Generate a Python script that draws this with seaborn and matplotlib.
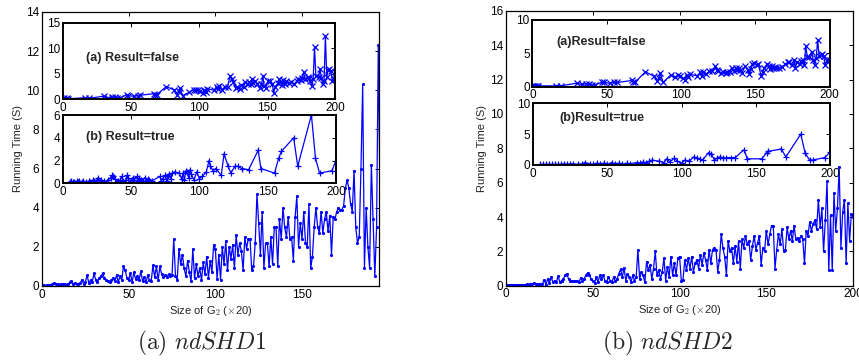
import numpy as np
import pandas as pd
import matplotlib
matplotlib.use("Agg")
import matplotlib.pyplot as plt
import seaborn as sns

# ---------------- data ----------------
# main curves: one value per size step (x = 0, 1, 2, ...)
shd1_main = [
    0.05, 0.05, 0.02, 0.03, 0.05, 0.04, 0.08, 0.15, 0.12, 0.08,
    0.05, 0.10, 0.08, 0.12, 0.05, 0.10, 0.18, 0.25, 0.10, 0.15,
    0.12, 0.10, 0.15, 0.30, 0.12, 0.20, 0.55, 0.15, 0.30, 0.20,
    0.65, 0.30, 0.20, 0.40, 0.50, 0.65, 0.40, 0.30, 0.25, 0.20,
    0.30, 0.40, 0.25, 0.55, 0.20, 0.50, 0.30, 1.00, 0.80, 0.40,
    0.30, 0.65, 0.20, 0.70, 0.35, 0.50, 0.30, 0.75, 0.25, 0.45,
    0.20, 0.55, 0.30, 0.25, 1.05, 0.45, 1.00, 0.30, 1.00, 0.60,
    0.45, 0.55, 0.45, 0.60, 0.50, 0.55, 2.40, 0.50, 0.30, 1.90,
    1.10, 1.60, 0.90, 0.50, 1.30, 0.70, 0.25, 1.90, 0.40, 1.10,
    0.50, 0.90, 0.30, 1.20, 0.60, 1.50, 0.40, 1.30, 0.70, 2.10,
    1.90, 0.35, 1.60, 0.30, 2.00, 1.10, 2.30, 0.80, 2.00, 1.40,
    2.10, 0.90, 2.60, 1.60, 2.20, 1.80, 0.80, 2.50, 1.90, 2.40,
    2.40, 0.80, 1.00, 2.20, 4.70, 3.20, 1.60, 3.80, 0.90, 2.20,
    2.20, 1.00, 2.50, 1.10, 3.00, 3.00, 1.00, 3.40, 2.40, 4.00,
    3.00, 2.50, 3.50, 2.40, 2.50, 1.30, 3.50, 4.60, 2.00, 3.20,
    2.40, 3.80, 2.20, 2.00, 4.20, 0.90, 1.50, 3.00, 4.00, 3.00,
    2.70, 3.80, 2.70, 3.40, 3.80, 2.80, 3.60, 1.60, 3.50, 3.40,
    3.80, 4.00, 3.90, 3.90, 4.10, 5.00, 5.40, 5.00, 4.20, 3.80,
    5.90, 3.00, 2.20, 2.50, 6.00, 10.30, 0.90, 4.00, 2.00, 0.90,
    6.20, 3.40, 0.50, 3.00, 12.30, 4.40, 3.50,
]
shd2_main = [
    0.05, 0.04, 0.03, 0.05, 0.04, 0.03, 0.06, 0.05, 0.04, 0.05,
    0.05, 0.06, 0.08, 0.06, 0.10, 0.12, 0.15, 0.10, 0.08, 0.12,
    0.08, 0.10, 0.35, 0.05, 0.40, 0.15, 0.50, 0.20, 0.30, 0.20,
    0.55, 0.20, 0.30, 0.40, 0.60, 0.70, 0.40, 0.30, 0.25, 0.30,
    0.25, 0.30, 0.20, 0.45, 0.30, 0.40, 0.60, 0.75, 0.60, 0.40,
    0.30, 0.15, 0.50, 0.20, 0.60, 0.40, 0.60, 0.30, 0.20, 0.50,
    0.30, 0.20, 0.50, 0.25, 0.40, 0.70, 0.95, 0.50, 1.05, 0.30,
    0.70, 0.50, 0.20, 0.60, 0.30, 0.50, 2.10, 0.40, 0.80, 0.60,
    0.20, 1.40, 0.90, 1.20, 0.40, 1.00, 2.00, 0.60, 0.90, 0.40,
    0.80, 1.60, 0.30, 1.10, 0.50, 1.70, 0.60, 1.30, 0.60, 1.60,
    1.70, 0.30, 0.35, 1.50, 0.90, 1.60, 1.00, 1.70, 0.80, 1.30,
    1.50, 1.00, 1.80, 1.20, 1.90, 1.50, 0.90, 2.10, 1.30, 2.10,
    2.20, 2.10, 0.80, 1.50, 3.00, 2.20, 1.70, 0.60, 2.60, 2.00,
    2.20, 1.30, 2.30, 1.40, 2.60, 1.00, 2.70, 2.20, 2.90, 2.40,
    2.60, 1.50, 2.30, 2.90, 2.10, 2.50, 2.90, 1.20, 2.20, 2.00,
    3.20, 2.40, 3.00, 3.50, 3.50, 1.00, 2.10, 3.00, 2.40, 3.30,
    2.00, 2.10, 3.40, 2.70, 3.20, 2.60, 3.50, 2.70, 2.80, 2.60,
    2.90, 2.70, 1.30, 3.20, 2.90, 3.70, 3.20, 3.60, 3.80, 3.30,
    5.00, 3.40, 4.50, 2.00, 3.80, 6.10, 0.90, 4.10, 0.90, 5.40,
    3.20, 4.50, 6.90, 2.20, 4.30, 5.00, 1.30, 4.80, 2.60, 4.20,
    4.00,
]

# inset (a): Result = false
false_x = [0, 1, 2, 3, 4, 16, 19, 30, 33, 36, 38, 40, 42, 47, 48, 52, 55, 57,
           67, 68, 69, 76, 82, 84, 85, 86, 88, 93, 96, 98, 99, 101, 103, 104,
           105, 106, 111, 113, 114, 115, 117, 119, 121, 123, 124, 125, 127, 128,
           130, 131, 133, 134, 136, 137, 138, 139, 140, 141, 143, 145, 146, 147,
           148, 149, 151, 152, 154, 155, 156, 158, 159, 160, 161, 162, 163, 164,
           166, 168, 170, 172, 173, 175, 176, 177, 178, 180, 181, 182, 183, 184,
           185, 186, 188, 189, 190, 191, 192, 193, 194, 195, 196, 197, 198, 199, 200]
shd1_false = [0.1, 0.2, 0.1, 0.2, 0.1, 0.3, 0.2, 0.6, 0.3, 0.4, 0.5, 0.3, 0.3,
              0.9, 0.7, 0.6, 0.7, 0.8, 1.1, 0.8, 0.9, 2.5, 1.8, 0.9, 1.6, 2.2,
              0.7, 1.4, 1.9, 1.8, 1.9, 1.6, 1.2, 1.9, 1.4, 2.1, 1.8, 2.5, 2.0,
              2.6, 1.9, 2.4, 2.5, 4.6, 4.0, 3.4, 2.2, 2.5, 2.1, 2.8, 2.5, 3.3,
              2.9, 3.4, 3.0, 4.0, 3.2, 3.5, 3.0, 2.2, 2.9, 4.6, 2.6, 2.2, 3.6,
              3.5, 2.9, 1.3, 2.4, 3.1, 3.9, 3.4, 2.8, 3.7, 2.9, 3.5, 3.1, 3.4,
              3.0, 3.5, 3.9, 3.8, 4.2, 5.4, 4.0, 4.4, 4.2, 3.5, 2.6, 4.0, 10.2,
              4.5, 4.3, 6.0, 4.2, 3.0, 3.5, 12.4, 4.3, 5.8, 6.0, 5.6, 3.5, 4.0, 5.3]
shd2_false = [0.1, 0.1, 0.1, 0.1, 0.1, 0.1, 0.1, 0.5, 0.3, 0.4, 0.4, 0.2, 0.2,
              0.7, 0.6, 0.5, 0.6, 0.6, 0.9, 0.7, 0.6, 2.2, 1.5, 0.8, 1.2, 2.0,
              0.6, 1.7, 1.4, 1.7, 1.6, 1.2, 1.0, 1.7, 1.4, 1.8, 1.6, 2.1, 1.5,
              2.2, 1.9, 2.3, 2.3, 3.0, 2.5, 2.3, 2.0, 2.2, 2.0, 2.2, 2.2, 2.8,
              2.3, 2.8, 2.5, 2.8, 2.4, 2.0, 3.0, 2.4, 1.9, 2.6, 3.3, 3.5, 3.2,
              3.4, 1.5, 2.2, 2.7, 3.4, 3.0, 2.6, 3.1, 2.7, 2.9, 2.7, 2.7, 2.9,
              3.3, 3.6, 3.6, 3.2, 3.9, 2.8, 3.6, 3.3, 3.8, 4.0, 3.2, 6.1, 4.4,
              4.4, 5.2, 4.0, 3.2, 4.2, 7.0, 4.5, 4.7, 4.8, 4.6, 3.2, 3.8, 4.0, 4.0]

# inset (b): Result = true
true1_x = [5, 6, 7, 8, 10, 11, 12, 14, 15, 17, 19, 20, 22, 23, 25, 26, 27, 28,
           30, 32, 33, 35, 36, 37, 38, 40, 42, 43, 44, 46, 47, 48, 50, 51, 52,
           54, 55, 56, 57, 58, 60, 61, 62, 63, 65, 71, 72, 73, 75, 76, 77, 78,
           79, 80, 82, 85, 87, 88, 89, 90, 91, 92, 93, 94, 96, 98, 100, 102, 105,
           107, 108, 110, 112, 116, 118, 121, 123, 126, 128, 131, 136, 143, 145,
           155, 158, 160, 169, 172, 182, 185, 188, 197, 200]
shd1_true = [0.1, 0.2, 0.1, 0.1, 0.2, 0.1, 0.2, 0.1, 0.2, 0.1, 0.2, 0.1, 0.3,
             0.2, 0.3, 0.5, 0.1, 0.3, 0.2, 0.1, 0.3, 0.5, 0.7, 0.6, 0.4, 0.2,
             0.3, 0.6, 0.2, 0.3, 0.7, 0.5, 0.2, 0.5, 0.3, 0.6, 0.2, 0.5, 0.3,
             0.2, 0.5, 0.2, 0.4, 0.3, 0.2, 0.6, 0.2, 0.4, 0.7, 0.2, 0.6, 0.8,
             0.4, 0.9, 1.0, 0.9, 0.4, 0.9, 0.3, 1.1, 1.0, 0.5, 1.2, 0.8, 0.3,
             1.0, 0.4, 0.6, 1.0, 2.0, 1.5, 1.1, 1.3, 0.7, 2.6, 1.5, 0.9, 1.5,
             1.5, 1.3, 1.2, 2.9, 1.3, 0.9, 2.2, 2.8, 4.0, 1.5, 6.0, 2.2, 0.9,
             1.1, 2.0]
true2_x = [5, 7, 9, 11, 13, 15, 17, 19, 21, 23, 25, 27, 30, 33, 35, 38, 40, 43,
           45, 48, 50, 53, 55, 58, 60, 63, 65, 70, 72, 74, 76, 78, 80, 85, 88,
           90, 92, 95, 97, 100, 102, 105, 108, 110, 112, 114, 118, 120, 122, 124,
           126, 128, 130, 133, 136, 142, 144, 154, 157, 158, 167, 170, 180, 183,
           186, 188, 196, 200]
shd2_true = [0.1, 0.1, 0.1, 0.1, 0.1, 0.1, 0.1, 0.1, 0.2, 0.1, 0.2, 0.2, 0.1,
             0.2, 0.4, 0.2, 0.1, 0.3, 0.2, 0.3, 0.1, 0.4, 0.2, 0.3, 0.1, 0.3,
             0.2, 0.4, 0.3, 0.5, 0.3, 0.6, 0.8, 0.6, 0.4, 1.0, 0.5, 1.1, 0.6,
             0.3, 0.8, 0.6, 1.3, 1.1, 1.0, 0.8, 2.0, 1.7, 0.8, 1.2, 1.3, 1.1,
             1.2, 1.2, 1.2, 2.5, 1.0, 1.0, 2.0, 2.2, 2.6, 1.3, 5.0, 1.9, 0.8,
             0.8, 1.2, 2.1]

# ---------------- style ----------------
sns.set_style("white")
plt.rcParams['font.family'] = ['Liberation Sans', 'DejaVu Sans']
plt.rcParams['mathtext.fontset'] = 'cm'
plt.rcParams['xtick.direction'] = 'in'
plt.rcParams['ytick.direction'] = 'in'

BLUE = (0, 0, 1)
FS = 8.5

fig = plt.figure(figsize=(8.59, 3.6), dpi=100)


def frame(ax, lw):
    for s in ax.spines.values():
        s.set_visible(True)
        s.set_color('black')
        s.set_linewidth(lw)
    ax.tick_params(direction='in', top=True, right=True, length=3, width=0.7,
                   labelsize=FS, colors='black', pad=2)
    ax.set_xlabel('')
    ax.set_ylabel('')


def main_panel(rect, vals, xmax, ymax, yticks):
    ax = fig.add_axes(rect)
    df = pd.DataFrame({'size': np.arange(len(vals)), 'time': vals})
    sns.lineplot(data=df, x='size', y='time', ax=ax, color=BLUE, estimator=None,
                 sort=False, linewidth=0.9, marker='.', markersize=3,
                 markeredgecolor=BLUE)
    ax.set_xticks([0, 50, 100, 150, 200])
    ax.set_yticks(yticks)
    ax.set_xlim(0, xmax)
    ax.set_ylim(0, ymax)
    frame(ax, 0.9)
    ax.set_xlabel(r'Size of G$_2$ ($\times$20)', fontsize=8, labelpad=2)
    ax.set_ylabel('Running Time (S)', fontsize=8, labelpad=2)
    return ax


def inset(rect, xs, ys, mk, ymax, yticks, title, tx, ty):
    ax = fig.add_axes(rect)
    ax.set_facecolor('white')
    sns.lineplot(x=xs, y=ys, ax=ax, color=BLUE, estimator=None, sort=False,
                 linewidth=0.9, marker=mk, markersize=4.5, markeredgewidth=0.9,
                 markeredgecolor=BLUE)
    ax.set_xticks([0, 50, 100, 150, 200])
    ax.set_yticks(yticks)
    ax.set_xlim(0, 200)
    ax.set_ylim(0, ymax)
    frame(ax, 1.4)
    ax.text(tx, ty, title, transform=ax.transAxes, fontsize=9,
            fontweight='bold', va='center', ha='left')
    return ax


# panel (a) ndSHD1 (right part of the frame is trimmed, as in the source)
main_panel([0.0489, 0.2056, 0.3923, 0.7611], shd1_main, 194.4, 14,
           [0, 2, 4, 6, 8, 10, 12, 14])
inset([0.0733, 0.7242, 0.3166, 0.2128], false_x, shd1_false, 'x', 15,
      [0, 5, 10, 15], '(a) Result=false', 0.085, 0.54)
inset([0.0733, 0.4908, 0.3178, 0.1897], true1_x, shd1_true, '+', 6,
      [0, 2, 4, 6], '(b) Result=true', 0.085, 0.68)

# panel (b) ndSHD2
main_panel([0.5891, 0.2064, 0.4040, 0.7631], shd2_main, 200, 16,
           [0, 2, 4, 6, 8, 10, 12, 14, 16])
inset([0.6199, 0.7597, 0.3458, 0.1861], false_x, shd2_false, 'x', 10,
      [0, 5, 10], '(a)Result=false', 0.081, 0.67)
inset([0.6205, 0.5417, 0.3463, 0.1714], true2_x, shd2_true, '+', 10,
      [0, 5, 10], '(b)Result=true', 0.087, 0.757)

# captions
fig.text(202 / 859, 1 - 343 / 360, r'$\mathrm{(a)}\ ndSHD1$', fontsize=17,
         ha='center', va='center')
fig.text(667 / 859, 1 - 343 / 360, r'$\mathrm{(b)}\ ndSHD2$', fontsize=17,
         ha='center', va='center')

fig.savefig('out.png', dpi=100)
